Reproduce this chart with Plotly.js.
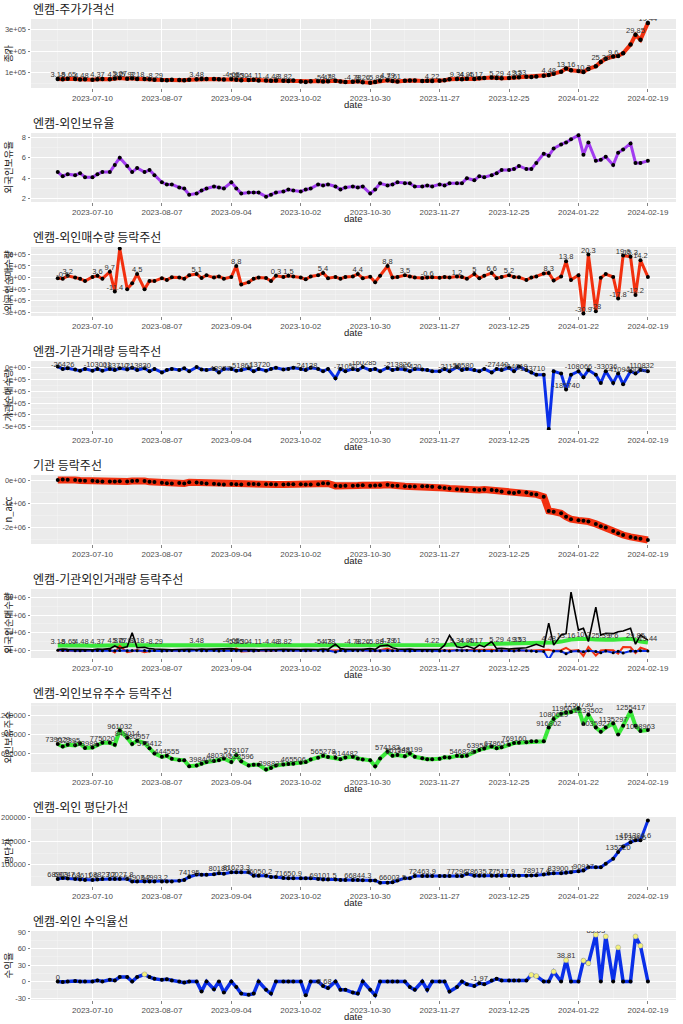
<!DOCTYPE html>
<html>
<head>
<meta charset="utf-8">
<script src="https://cdn.plot.ly/plotly-3.0.1.min.js"></script>
<style>
  html, body { margin: 0; padding: 0; background: #fff; }
  #chart { width: 683px; height: 1024px; }
</style>
</head>
<body>
<div id="chart"></div>
<script>
// trading days (Mon/Wed/Fri samples)
const dates = [
  '2023-06-26','2023-06-28','2023-06-30','2023-07-03','2023-07-05','2023-07-07',
  '2023-07-10','2023-07-12','2023-07-14','2023-07-17','2023-07-19','2023-07-21',
  '2023-07-24','2023-07-26','2023-07-28','2023-07-31','2023-08-02','2023-08-04',
  '2023-08-07','2023-08-09','2023-08-11','2023-08-14','2023-08-16','2023-08-18',
  '2023-08-21','2023-08-23','2023-08-25','2023-08-28','2023-08-30','2023-09-01',
  '2023-09-04','2023-09-06','2023-09-08','2023-09-11','2023-09-13','2023-09-15',
  '2023-09-18','2023-09-20','2023-09-22','2023-09-25','2023-09-27','2023-09-29',
  '2023-10-02','2023-10-04','2023-10-06','2023-10-09','2023-10-11','2023-10-13',
  '2023-10-16','2023-10-18','2023-10-20','2023-10-23','2023-10-25','2023-10-27',
  '2023-10-30','2023-11-01','2023-11-03','2023-11-06','2023-11-08','2023-11-10',
  '2023-11-13','2023-11-15','2023-11-17','2023-11-20','2023-11-22','2023-11-24',
  '2023-11-27','2023-11-29','2023-12-01','2023-12-04','2023-12-06','2023-12-08',
  '2023-12-11','2023-12-13','2023-12-15','2023-12-18','2023-12-20','2023-12-22',
  '2023-12-25','2023-12-27','2023-12-29','2024-01-01','2024-01-03','2024-01-05',
  '2024-01-08','2024-01-10','2024-01-12','2024-01-15','2024-01-17','2024-01-19',
  '2024-01-22','2024-01-24','2024-01-26','2024-01-29','2024-01-31','2024-02-02',
  '2024-02-05','2024-02-07','2024-02-09','2024-02-12','2024-02-14','2024-02-16',
  '2024-02-19'
];

const closePrice = [
  72000,70000,73000, 71000,69000,70000, 68000,70000,72000, 70000,74000,76000,
  73000,75000,71000, 72000,70000,68000, 67000,66000,68000, 67000,66000,68000,
  70000,72000,71000, 72000,70000,69000, 71000,68000,66000, 67000,68000,65000,
  64000,63000,65000, 63000,62000,64000, 60000,58000,61000, 62000,60000,61000,
  63000,60000,58000, 59000,61000,57000, 54000,58000,63000, 66000,62000,60000,
  63000,65000,64000, 62000,63000,62000, 63000,66000,70000, 72000,70000,73000,
  71000,75000,76000, 78000,76000,75000, 76000,78000,80000, 82000,81000,83000,
  86000,90000,96000, 105000,120000,112000, 108000,104000,118000, 130000,150000,165000,
  175000,178000,190000, 230000,275000,252000, 330000
];

const foreignRatio = [
  4.6,4.2,4.4, 4.3,4.5,4.1, 4.1,4.4,4.6, 4.6,5.3,6.0, 5.2,4.6,5.0, 4.6,4.8,4.3,
  3.6,3.4,3.4, 3.1,3.0,2.4, 2.5,2.8,3.0, 3.2,3.1,3.0, 3.6,3.0,2.5, 2.6,2.6,2.6,
  2.2,2.4,2.6, 2.7,2.9,2.8, 2.7,2.9,3.0, 3.4,3.3,3.4, 3.2,2.9,3.1, 3.2,3.1,3.2,
  2.5,2.9,3.5, 3.3,3.4,3.6, 3.5,3.5,3.2, 3.2,3.3,3.2, 3.4,3.3,3.5, 3.5,3.5,4.0,
  3.8,4.2,4.1, 4.3,4.5,4.8, 4.8,4.9,5.2, 4.9,4.9,5.5, 6.4,6.2,6.9, 7.3,7.5,7.8,
  8.2,6.3,7.5, 5.7,5.8,6.1, 5.3,6.5,6.8, 7.4,5.5,5.5, 5.7
];

const foreignNet = [
  -5000,-10000,15000, 0,-10000,-30000, 5000,15000,-10000, 50000,-120000,250000,
  -100000,-50000,30000, -100000,-30000,-30000, -5000,-20000,2000, 0,-10000,20000,
  30000,-3000,20000, 0,10000,-10000, 5000,100000,-60000, -40000,-10000,0,
  -3000,-30000,15000, 5000,15000,10000, 0,-15000,10000, 20000,40000,-5000,
  5000,-10000,5000, 10000,30000,-5000, 8000,-40000,15000, 100000,0,5000,
  20000,10000,0, -3000,0,3000, -2000,5000,0, 10000,5000,-10000,
  30000,-5000,15000, 40000,-5000,5000, 20000,5000,3000, -20000,0,10000,
  35000,40000,-25000, 10000,140000,-20000, 20000,-310000,200000, -290000,-2000,30000,
  5000,-180000,190000, 180000,-150000,150000, 5000
];

const instNet = [
  10000,-10000,-5000, -15000,-25000,-10000, -25000,-10000,-25000, -10000,-20000,-5000,
  -15000,0,-20000, -5000,-30000,-10000, -40000,-20000,-10000, -20000,-5000,-30000,
  5000,-15000,-20000, -10000,-40000,-10000, -10000,-25000,-20000, -5000,-30000,-10000,
  -25000,-10000,0, -15000,-10000,0, -10000,-20000,0, -10000,-30000,-10000,
  -90000,-10000,-30000, -10000,-20000,5000, -20000,-10000,-30000, 0,-20000,-10000,
  -15000,-30000,-10000, -15000,-20000,-30000, -30000,-10000,-30000, 5000,-20000,-10000,
  -20000,-30000,-10000, -40000,-10000,-20000, 0,-30000,10000, -20000,-40000,-60000,
  -60000,-520000,-30000, -50000,-185740,-60000, -30000,-80000,-20000, -60000,-130000,-30000,
  -130000,-50000,-140000, -30000,-50000,-20000, -30000
];

const instAcc = [
  10000,30000,20000, 10000,-10000,-20000, -20000,-40000,-50000, -60000,-50000,-40000,
  -50000,-30000,-20000, -30000,-70000,-80000, -110000,-130000,-140000, -120000,-140000,-90000,
  -100000,-120000,-140000, -150000,-170000,-180000, -160000,-170000,-180000, -160000,-160000,-170000,
  -170000,-170000,-180000, -180000,-170000,-170000, -170000,-180000,-180000, -170000,-130000,-140000,
  -240000,-250000,-240000, -230000,-220000,-210000, -230000,-220000,-210000, -190000,-230000,-240000,
  -260000,-270000,-270000, -260000,-260000,-280000, -300000,-330000,-350000, -380000,-400000,-410000,
  -400000,-410000,-390000, -420000,-440000,-480000, -520000,-540000,-500000, -520000,-580000,-600000,
  -700000,-1300000,-1330000, -1400000,-1550000,-1650000, -1700000,-1720000,-1750000, -1850000,-1950000,-2000000,
  -2150000,-2250000,-2320000, -2400000,-2450000,-2480000, -2530000
];

const tradeVolume = [
  50000,80000,60000, 50000,70000,50000, 40000,80000,60000, 100000,250000,120000,
  200000,1000000,150000, 180000,100000,80000, 50000,60000,40000, 50000,70000,60000,
  50000,80000,60000, 70000,50000,60000, 100000,60000,50000, 50000,60000,40000,
  50000,70000,50000, 60000,50000,40000, 50000,60000,40000, 50000,80000,60000,
  350000,100000,60000, 50000,70000,60000, 100000,60000,250000, 300000,150000,80000,
  60000,80000,50000, 50000,60000,50000, 60000,300000,850000, 200000,150000,250000,
  100000,300000,200000, 500000,100000,120000, 80000,100000,120000, 150000,250000,350000,
  200000,1550000,300000, 870000,950000,3300000, 1150000,1250000,500000, 2450000,870000,970000,
  950000,1060000,1100000, 1250000,350000,870000, 580000
];

const priceLine = [
  280000,270000,280000, 280000,270000,280000, 270000,280000,290000, 290000,300000,300000,
  300000,290000,290000, 290000,280000,280000, 280000,270000,280000, 280000,270000,280000,
  290000,300000,290000, 290000,290000,280000, 290000,280000,280000, 280000,280000,270000,
  270000,270000,280000, 270000,270000,280000, 270000,260000,270000, 280000,270000,280000,
  280000,270000,270000, 270000,280000,270000, 260000,270000,290000, 300000,290000,280000,
  290000,300000,300000, 290000,300000,290000, 300000,310000,320000, 330000,320000,330000,
  330000,340000,350000, 350000,350000,340000, 350000,360000,370000, 370000,380000,390000,
  400000,420000,450000, 500000,580000,620000, 650000,660000,640000, 620000,600000,600000,
  610000,630000,650000, 660000,600000,500000, 450000
];

const foreignShares = [
  750000,712000,739000, 730000,760000,690000, 697000,739000,771000, 771000,739000,961032,
  849014,750000,803000, 766000,686000,605000, 552000,568000,520000, 498000,498000,407000,
  418000,445000,471000, 487000,500000,525000, 471000,578107,482000, 418000,430000,428000,
  353000,380000,418000, 434000,440000,444000, 460000,471000,510000, 536000,568000,550000,
  536000,514000,540000, 552000,525000,510000, 498000,407000,525000, 632000,568000,580000,
  560000,605000,552000, 530000,514000,514000, 520000,546000,540000, 568000,560000,570000,
  632000,659000,680000, 712000,686000,700000, 739000,766000,770000, 777000,793000,793000,
  793000,1007000,1141000, 1222000,1240000,1248000, 1302000,1061000,1206000, 1007000,943000,1007000,
  1071000,900000,1034000, 1255417,1034000,954000, 970000
];

const foreignAvgCost = [
  70000,72000,71000, 70000,69000,68000, 68000,69000,70000, 70000,70000,70000,
  70000,64500,64500, 64500,64500,64500, 64500,64500,64500, 66000,68000,74195,
  79400,79000,78700, 80000,82000,81000, 84000,84000,84000, 84000,77000,77000,
  77000,74000,74000, 72000,71600,71600, 71600,71600,71600, 70000,69000,69000,
  69000,68000,68000, 68000,67500,67000, 66700,66700,62000, 62000,63000,66700,
  71600,71600,76000, 76000,76000,76000, 76000,76000,76000, 76000,76000,80800,
  77000,77000,77000, 77000,77000,77000, 77000,77000,77000, 77000,77500,78000,
  79400,81500,82000, 82000,83000,84000, 86500,88000,95000, 95000,95000,102000,
  113000,127000,139000, 148000,152000,152000, 194000
];

const foreignReturn = [
  0,-1,0, 1,0,0, 0,2,0, 3,2,8, 8,0,8, 13,8,5,
  3,4,2, 0,-2,0, 0,-18,0, -14,0,-20, 0,-10,-22, -24,-22,0,
  -15,-22,0, 0,0,0, 0,-25,0, 0,-8,-12, 0,-15,-15, -20,-22,0,
  -15,-25,0, 0,0,0, 0,-10,-15, 0,-15,0, 0,0,-18, -10,0,-5,
  -8,-3,-5, 2,5,2, 2,2,2, 2,12,10, 0,0,18, 0,38.81,0,
  0,38,33, 85,0,82, 0,62,0, 0,82,65, 0
];

// text labels drawn on the points
const priceLabelDates = ['2023-06-26','2023-06-30','2023-07-05','2023-07-12','2023-07-19','2023-07-21','2023-07-24','2023-07-28','2023-08-04','2023-08-21','2023-09-04','2023-09-06','2023-09-08','2023-09-13','2023-09-20','2023-09-25','2023-10-11','2023-10-13','2023-10-23','2023-10-27','2023-11-01','2023-11-06','2023-11-08','2023-11-24','2023-12-04','2023-12-08','2023-12-11','2023-12-20','2023-12-27','2023-12-29','2024-01-10','2024-01-17','2024-01-24','2024-01-31','2024-02-05','2024-02-14','2024-02-19'];
const priceLabels = ['3.18','-5.65','-4.48','4.37','4.87','5.07','-5.92','3.18','-8.29','3.48','-4.65','5.45','5.30','-4.11','-4.48','-3.82','-5.43','4.78','-4.78','8.26','-5.88','4.79','-3.61','4.22','9.34','4.95','-4.17','5.29','4.33','9.53','4.48','13.16','10.2','25.39','9.6','29.85','19.44'];

const netLabelDates = ['2023-06-28','2023-06-30','2023-07-12','2023-07-17','2023-07-19','2023-07-28','2023-08-21','2023-09-06','2023-09-22','2023-09-27','2023-10-11','2023-10-25','2023-11-06','2023-11-13','2023-11-22','2023-12-04','2023-12-11','2023-12-18','2023-12-25','2024-01-10','2024-01-17','2024-01-24','2024-01-26','2024-01-29','2024-02-07','2024-02-09','2024-02-12','2024-02-14','2024-02-16'];
const netLabels = ['-0.6','3.2','3.6','9.7','-11.4','4.5','5.1','8.8','0.3','1.5','5.4','4.4','8.8','3.5','-0.6','1.2','5','6.6','5.2','8.3','13.8','-30.9','20.3','-28','-17.8','19.6','15.3','-12.2','14.2'];

const instLabelDates = ['2023-06-28','2023-07-12','2023-07-19','2023-07-28','2023-08-30','2023-09-08','2023-09-15','2023-10-04','2023-10-20','2023-10-27','2023-11-10','2023-11-15','2023-12-01','2023-12-06','2023-12-20','2023-12-27','2024-01-03','2024-01-17','2024-01-22','2024-02-02','2024-02-07','2024-02-14','2024-02-16'];
const instLabels = ['-26426','-103001','-183710','-213830','-43977','-51861','-13720','-24138','-71050','-160285','-213826','-42420','-21136','-30580','-27440','-214019','-173710','-185740','-108066','-33036','-41094','-26082','-110832'];

const sharesLabelDates = ['2023-06-26','2023-06-30','2023-07-07','2023-07-14','2023-07-21','2023-07-24','2023-07-28','2023-08-02','2023-08-09','2023-08-23','2023-08-30','2023-09-06','2023-09-08','2023-09-20','2023-09-29','2023-10-11','2023-10-20','2023-11-06','2023-11-10','2023-11-15','2023-12-06','2023-12-13','2023-12-20','2023-12-27','2024-01-10','2024-01-12','2024-01-17','2024-01-22','2024-01-26','2024-01-29','2024-02-05','2024-02-12','2024-02-16'];
const sharesLabels = ['739629','712395','713988','775020','961032','849014','780957','575412','444555','398400','480300','578107','522596','398837','465506','565278','514482','574182','561182','548199','546828','639547','678657','769160','916802','1080629','1196040','1250730','1233502','1035927','1135297','1255417','1058963'];

const costLabelDates = ['2023-06-26','2023-06-30','2023-07-07','2023-07-14','2023-07-21','2023-07-28','2023-08-04','2023-08-18','2023-08-30','2023-09-06','2023-09-15','2023-09-27','2023-10-11','2023-10-25','2023-11-08','2023-11-20','2023-12-04','2023-12-13','2023-12-22','2024-01-05','2024-01-15','2024-01-24','2024-02-07','2024-02-12','2024-02-14'];
const costLabels = ['68903','69247.1','68611.6','68823.2','70027.8','64903.2','64993.2','74195','80180','81623.3','76050.2','71650.9','69101.5','66844.3','66003.5','72463.9','77296','78635.2','77517.9','78917.4','83900.1','90917','135220','151304.6','151304.6'];

const returnLabelDates = ['2023-06-26','2023-10-11','2023-12-13','2024-01-17','2024-01-29'];
const returnLabels = ['0','-8.68','-1.97','38.81','85.03'];

// ---- layout helpers ----
const W = 683, H = 1024, LEFT = 31, RIGHT = 676;
const RED = '#F2300F', PURPLE = '#A23CF0', BLUE = '#0A2FE8', GREEN = '#3AE83A';
const xTicks = ['2023-07-10','2023-08-07','2023-09-04','2023-10-02','2023-10-30','2023-11-27','2023-12-25','2024-01-22','2024-02-19'];
const xMinor = ['2023-06-26','2023-07-24','2023-08-21','2023-09-18','2023-10-16','2023-11-13','2023-12-11','2024-01-08','2024-02-05'];
const xRange = ['2023-06-15 05:00','2024-03-01 08:00'];

const panels = [
  { title: '엔캠-주가가격선', ytitle: '종가', range: [30000, 348000],
    ticks: [100000, 200000, 300000], tickText: ['1e+05','2e+05','3e+05'], minor: [50000, 150000, 250000] },
  { title: '엔캠-외인보유율', ytitle: '외국인보유율', range: [1.68, 8.42],
    ticks: [2, 4, 6, 8], tickText: ['2','4','6','8'], minor: [3, 5, 7] },
  { title: '엔캠-외인매수량 등락주선', ytitle: '외국인순매수량', range: [-332000, 264000],
    ticks: [-300000,-200000,-100000,0,100000,200000], tickText: ['-3e+05','-2e+05','-1e+05','0e+00','1e+05','2e+05'],
    minor: [-250000,-150000,-50000,50000,150000,250000] },
  { title: '엔캠-기관거래량 등락주선', ytitle: '기관순매수량', range: [-529000, 57000],
    ticks: [-500000,-400000,-300000,-200000,-100000,0], tickText: ['-5e+05','-4e+05','-3e+05','-2e+05','-1e+05','0e+00'],
    minor: [-450000,-350000,-250000,-150000,-50000] },
  { title: '기관 등락주선', ytitle: 'n_acc', range: [-2700000, 220000],
    ticks: [-2000000,-1000000,0], tickText: ['-2e+06','-1e+06','0e+00'], minor: [-2500000,-1500000,-500000] },
  { title: '엔캠-기관외인거래량 등락주선', ytitle: '외국인순매수량', range: [-430000, 3480000],
    ticks: [0,1000000,2000000,3000000], tickText: ['0e+00','1e+06','2e+06','3e+06'], minor: [500000,1500000,2500000] },
  { title: '엔캠-외인보유주수 등락주선', ytitle: '외인보유주수', range: [316000, 1388000],
    ticks: [600000,900000,1200000], tickText: ['600000','900000','1200000'], minor: [450000,750000,1050000,1350000] },
  { title: '엔캠-외인 평단가선', ytitle: '평단가', range: [55000, 201500],
    ticks: [100000,150000,200000], tickText: ['100000','150000','200000'], minor: [75000,125000,175000] },
  { title: '엔캠-외인 수익율선', ytitle: '수익율', range: [-33.6, 91.8],
    ticks: [-30,0,30,60,90], tickText: ['-30','0','30','60','90'], minor: [-15,15,45,75] }
];

function sfx(k) { return k === 0 ? '' : String(k + 1); }
function py(p) { return 1 - p / H; }

function series(k, y, color, width, markerSize) {
  const t = {
    type: 'scatter', x: dates, y: y,
    mode: markerSize ? 'lines+markers' : 'lines',
    line: { color: color, width: width },
    xaxis: 'x' + sfx(k), yaxis: 'y' + sfx(k), hoverinfo: 'skip'
  };
  if (markerSize) t.marker = { color: '#000', size: markerSize };
  return t;
}

function labels(k, ld, lt, values) {
  return {
    type: 'scatter', mode: 'text',
    x: ld, y: ld.map(d => values[dates.indexOf(d)]), text: lt,
    textposition: 'top center',
    textfont: { family: 'Liberation Sans, Arial, sans-serif', size: 7.5, color: '#333' },
    xaxis: 'x' + sfx(k), yaxis: 'y' + sfx(k), hoverinfo: 'skip'
  };
}

const traces = [
  series(0, closePrice, RED, 4, 4.5),
  labels(0, priceLabelDates, priceLabels, closePrice),
  series(1, foreignRatio, PURPLE, 3, 4),
  series(2, foreignNet, RED, 3, 4),
  labels(2, netLabelDates, netLabels, foreignNet),
  series(3, instNet, BLUE, 3, 4),
  labels(3, instLabelDates, instLabels, instNet),
  series(4, instAcc, RED, 7, 4),
  series(5, priceLine, GREEN, 4, 0),
  series(5, foreignNet, RED, 2, 0),
  series(5, instNet, BLUE, 2, 3),
  series(5, tradeVolume, '#000', 1.6, 0),
  labels(5, priceLabelDates, priceLabels, priceLine),
  series(6, foreignShares, GREEN, 4, 4),
  labels(6, sharesLabelDates, sharesLabels, foreignShares),
  series(7, foreignAvgCost, BLUE, 3, 4),
  labels(7, costLabelDates, costLabels, foreignAvgCost),
  series(8, foreignReturn, BLUE, 3.5, 4),
  {
    type: 'scatter', mode: 'markers',
    x: dates.filter((d, i) => foreignReturn[i] >= 10),
    y: foreignReturn.filter(v => v >= 10),
    marker: { color: '#F4F27C', size: 5, line: { color: '#999', width: 0.5 } },
    xaxis: 'x9', yaxis: 'y9', hoverinfo: 'skip'
  },
  labels(8, returnLabelDates, returnLabels, foreignReturn)
];

const tickFont = { family: 'Liberation Sans, Arial, sans-serif', size: 8, color: '#4D4D4D' };
const korean = '"Noto Sans CJK KR", "Noto Sans", sans-serif';

const layout = {
  width: W, height: H,
  margin: { l: 0, r: 0, t: 0, b: 0 },
  paper_bgcolor: '#fff', plot_bgcolor: '#EBEBEB',
  showlegend: false,
  annotations: []
};

panels.forEach((p, k) => {
  const top = 19 + 114 * k, bottom = 88 + 114 * k;
  layout['xaxis' + sfx(k)] = {
    domain: [LEFT / W, RIGHT / W], anchor: 'y' + sfx(k),
    type: 'date', range: xRange,
    tickmode: 'array', tickvals: xTicks, tickformat: '%Y-%m-%d',
    tickfont: tickFont, ticks: 'outside', ticklen: 2.5, tickwidth: 0.6, tickcolor: '#333',
    showgrid: true, gridcolor: '#FFFFFF', gridwidth: 1,
    minor: { tickvals: xMinor, showgrid: true, gridcolor: '#F6F6F6', gridwidth: 0.5, ticks: '' },
    zeroline: false, showline: false, fixedrange: true
  };
  layout['yaxis' + sfx(k)] = {
    domain: [py(bottom), py(top)], anchor: 'x' + sfx(k),
    range: p.range, tickmode: 'array', tickvals: p.ticks, ticktext: p.tickText,
    tickfont: { family: tickFont.family, size: 7.5, color: '#4D4D4D' },
    ticks: 'outside', ticklen: 2.5, tickwidth: 0.6, tickcolor: '#333',
    showgrid: true, gridcolor: '#FFFFFF', gridwidth: 1,
    minor: { tickvals: p.minor, showgrid: true, gridcolor: '#F6F6F6', gridwidth: 0.5, ticks: '' },
    zeroline: false, showline: false, fixedrange: true
  };
  layout.annotations.push(
    { text: p.title, xref: 'paper', yref: 'paper', x: LEFT / W, y: py(8 + 114 * k),
      xanchor: 'left', yanchor: 'middle', showarrow: false,
      font: { family: korean, size: 12, color: '#1A1A1A' } },
    { text: 'date', xref: 'paper', yref: 'paper', x: (LEFT + RIGHT) / 2 / W, y: py(104 + 114 * k),
      xanchor: 'center', yanchor: 'middle', showarrow: false,
      font: { family: 'Liberation Sans, Arial, sans-serif', size: 9.5, color: '#1A1A1A' } },
    { text: p.ytitle, xref: 'paper', yref: 'paper', x: 7 / W, y: py((top + bottom) / 2),
      xanchor: 'center', yanchor: 'middle', textangle: -90, showarrow: false,
      font: { family: korean, size: 9.5, color: '#1A1A1A' } }
  );
});

Plotly.newPlot('chart', traces, layout, { displayModeBar: false, staticPlot: true });
</script>
</body>
</html>
